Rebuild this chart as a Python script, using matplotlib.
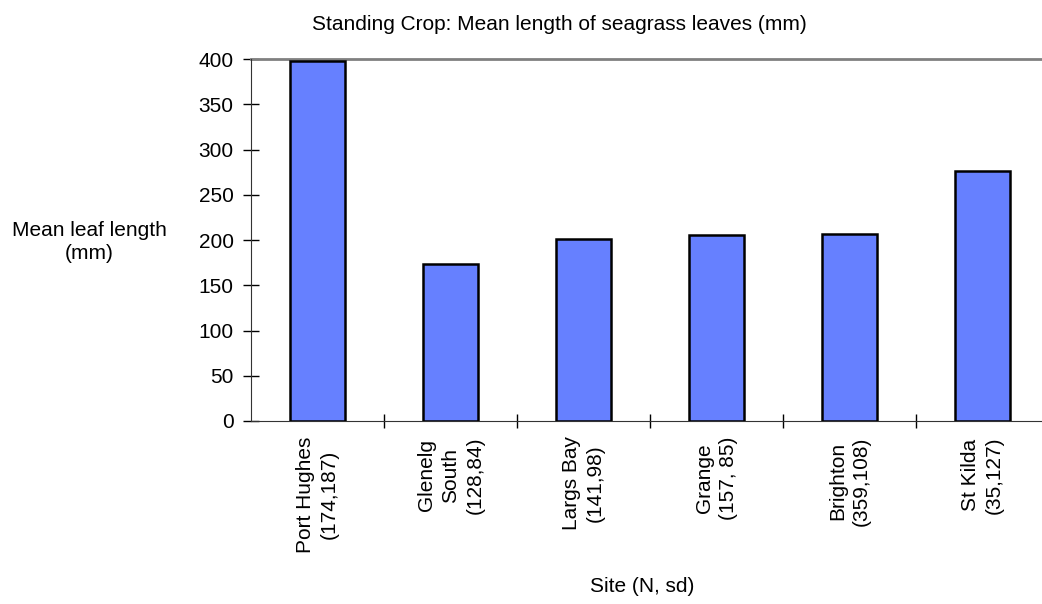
import matplotlib
matplotlib.use("Agg")
import matplotlib.pyplot as plt

plt.rcParams["font.family"] = ["Liberation Sans", "DejaVu Sans"]

SITES = [
    "Port Hughes\n(174,187)",
    "Glenelg\nSouth\n(128,84)",
    "Largs Bay\n(141,98)",
    "Grange\n(157, 85)",
    "Brighton\n(359,108)",
    "St Kilda\n(35,127)",
]
MEAN_LENGTH = [398, 173, 201, 205, 207, 276]
Y_TICKS = [0, 50, 100, 150, 200, 250, 300, 350, 400]

BAR_COLOR = "#6680ff"
FS = 15


def main():
    fig = plt.figure(figsize=(10.42, 6.04), dpi=100)
    ax = fig.add_axes([251 / 1042, 183 / 604, 798 / 1042, 362 / 604])

    x = list(range(len(SITES)))
    ax.bar(x, MEAN_LENGTH, width=0.41, color=BAR_COLOR, edgecolor="black",
           linewidth=1.8, zorder=3)

    ax.set_xlim(-0.5, len(SITES) - 0.5)
    ax.set_ylim(0, 400)
    ax.set_yticks(Y_TICKS)
    ax.tick_params(axis="y", direction="inout", length=11, width=1,
                   labelsize=FS, pad=7)

    # category labels at centres, tick marks between categories
    ax.set_xticks(x)
    ax.set_xticklabels(SITES, rotation=90, fontsize=FS, va="top",
                       ha="center", multialignment="center", linespacing=1.35)
    ax.tick_params(axis="x", which="major", length=0, pad=11)
    ax.set_xticks([i + 0.5 for i in x[:-1]], minor=True)
    ax.tick_params(axis="x", which="minor", direction="inout", length=9.5,
                   width=1)

    ax.axhline(400, color="#808080", linewidth=2, zorder=2, clip_on=False)
    for side in ["top", "right"]:
        ax.spines[side].set_visible(False)
    ax.spines["left"].set_color("#333333")
    ax.spines["bottom"].set_color("#333333")

    fig.text(559 / 1042, 1 - 24 / 604,
             "Standing Crop: Mean length of seagrass leaves (mm)",
             ha="center", va="center", fontsize=FS)
    fig.text(89 / 1042, 1 - 242 / 604, "Mean leaf length\n(mm)",
             ha="center", va="center", fontsize=FS, multialignment="center",
             linespacing=1.3)
    fig.text(642 / 1042, 1 - 587 / 604, "Site (N, sd)",
             ha="center", va="center", fontsize=FS)

    fig.savefig("out.png", dpi=100)


if __name__ == "__main__":
    main()
